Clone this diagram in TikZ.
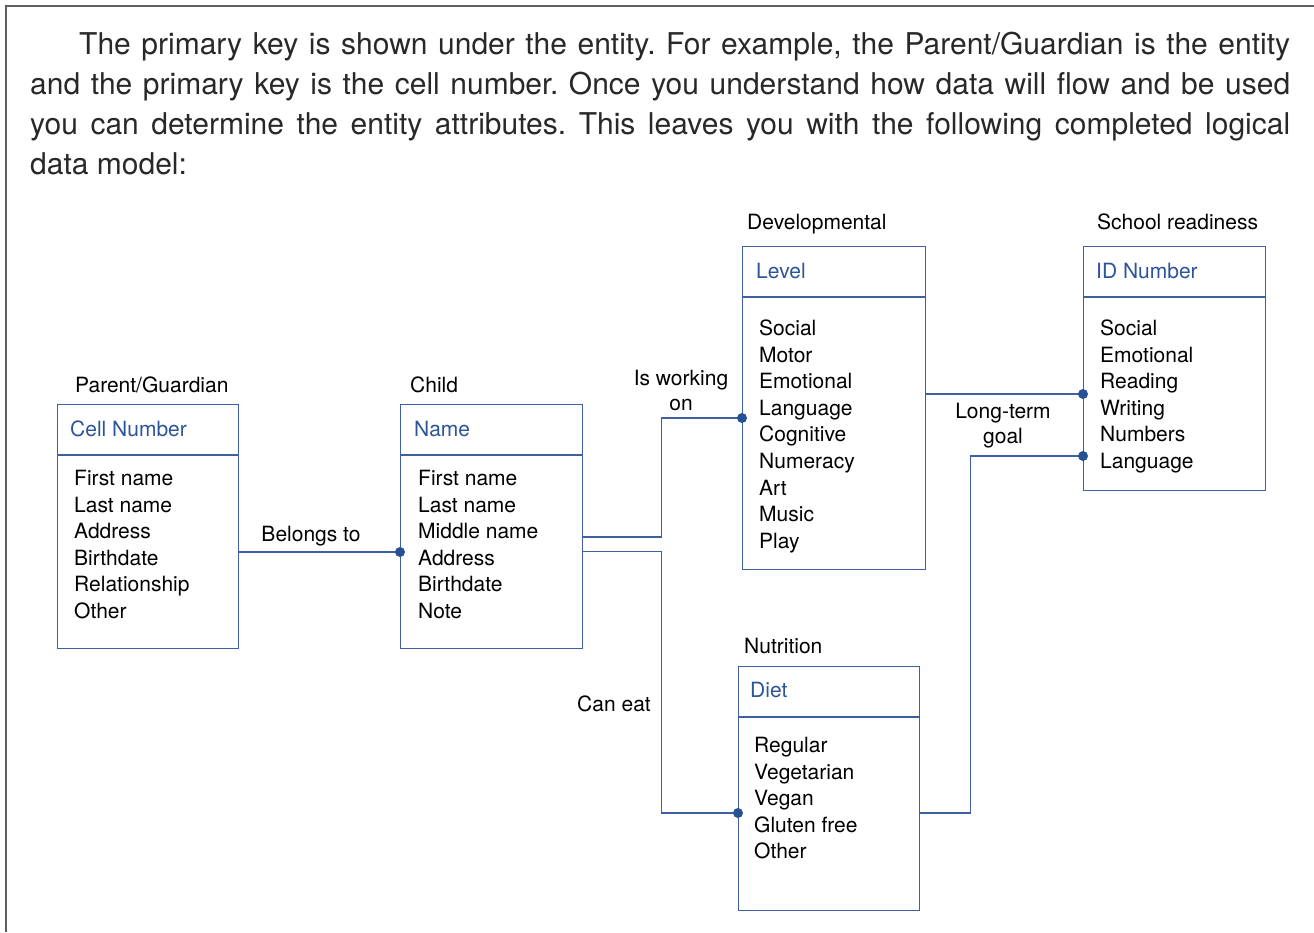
\documentclass[tikz,border=0pt]{standalone}
\usepackage{fontspec}
\setmainfont{TeX Gyre Heros}
\usetikzlibrary{calc}

\definecolor{framegray}{RGB}{95,95,95}
\definecolor{bodytext}{RGB}{40,40,40}
\definecolor{erline}{RGB}{62,96,160}
\definecolor{erkey}{RGB}{44,84,152}
\definecolor{erdot}{RGB}{40,80,148}

\tikzset{
  entity/.style={draw=erline, line width=1.3pt, inner sep=0pt, anchor=north west},
  conn/.style={draw=erline, line width=1.3pt},
  label/.style={anchor=base west, inner sep=0pt, font=\fontsize{21}{25}\selectfont, text=black},
  keytext/.style={anchor=base west, inner sep=0pt, font=\fontsize{21}{25}\selectfont, text=erkey},
  attrs/.style={anchor=base west, inner sep=0pt, font=\fontsize{21}{26.6}\selectfont, text=black},
  rel/.style={anchor=base, inner sep=0pt, font=\fontsize{21}{25}\selectfont, text=black},
  joint/.style={fill=erdot}
}

\newcommand{\attrlist}[1]{\parbox[t]{180pt}{\raggedright #1}}
\newcommand{\rellabel}[1]{\parbox[t]{160pt}{\centering #1}}

\begin{document}
\frenchspacing
\begin{tikzpicture}[x=1pt,y=-1pt]
\useasboundingbox (0,0) rectangle (1314,932);

% page frame (top and left edges)
\draw[framegray, line width=2.2pt] (5.8,932) -- (5.8,5.8) -- (1314,5.8);

% introductory paragraph
\node[anchor=base west, inner sep=0pt, text=bodytext] (intro) at (30,54)
  {\parbox[t]{1260pt}{\fontsize{30}{40}\selectfont\hyphenpenalty=10000
   \hspace*{49pt}The primary key is shown under the entity. For example, the Parent/Guardian is the entity\linebreak
   and the primary key is the cell number. Once you understand how data will flow and be used\linebreak
   you can determine the entity attributes. This leaves you with the following completed logical\linebreak
   data model:}};

% entity boxes
\node[entity, minimum width=181pt, minimum height=244pt] (pg)  at (57,404)  {};
\node[entity, minimum width=182pt, minimum height=244pt] (ch)  at (400,404) {};
\node[entity, minimum width=183pt, minimum height=323pt] (dev) at (742,246) {};
\node[entity, minimum width=182pt, minimum height=244pt] (sr)  at (1083,246) {};
\node[entity, minimum width=181pt, minimum height=244pt] (nut) at (738,666) {};

% key separators
\foreach \e in {pg,ch,dev,sr,nut}
  \draw[conn] ($(\e.north west)+(0,51)$) -- ($(\e.north east)+(0,51)$);

% entity names
\node[label] (pg-name)  at (75,392.5)   {Parent/Guardian};
\node[label] (ch-name)  at (410,392.5)  {Child};
\node[label] (dev-name) at (747,229.5)  {Developmental};
\node[label] (sr-name)  at (1097,229.5) {School readiness};
\node[label] (nut-name) at (744,653.5)  {Nutrition};

% primary keys
\node[keytext] (pg-key)  at (70,436.5)   {Cell Number};
\node[keytext] (ch-key)  at (414,436.5)  {Name};
\node[keytext] (dev-key) at (756,278.5)  {Level};
\node[keytext] (sr-key)  at (1096,278.5) {ID Number};
\node[keytext] (nut-key) at (750,697.5)  {Diet};

% attributes
\node[attrs] (pg-attr)  at (74,485.5)
  {\attrlist{First name\\Last name\\Address\\Birthdate\\Relationship\\Other}};
\node[attrs] (ch-attr)  at (418,485.5)
  {\attrlist{First name\\Last name\\Middle name\\Address\\Birthdate\\Note}};
\node[attrs] (dev-attr) at (759,335.5)
  {\attrlist{Social\\Motor\\Emotional\\Language\\Cognitive\\Numeracy\\Art\\Music\\Play}};
\node[attrs] (sr-attr)  at (1100,335.5)
  {\attrlist{Social\\Emotional\\Reading\\Writing\\Numbers\\Language}};
\node[attrs] (nut-attr) at (754,752.5)
  {\attrlist{Regular\\Vegetarian\\Vegan\\Gluten free\\Other}};

% connection points
\coordinate (d1) at (ch.west |- 0,552);
\coordinate (d2) at (dev.west |- 0,418);
\coordinate (d3) at (nut.west |- 0,813);
\coordinate (d4) at (sr.west |- 0,394);
\coordinate (d5) at (sr.west |- 0,456);

% relationships
\draw[conn] (pg.east |- d1) -- (d1);
\draw[conn] (ch.east |- 0,537) -- ++(78,0) |- (d2);
\draw[conn] (ch.east |- 0,551.5) -- ++(78,0) |- (d3);
\draw[conn] (dev.east |- d4) -- (d4);
\draw[conn] (nut.east |- d3) -- ++(50,0) |- (d5);

\foreach \d in {d1,d2,d3,d4,d5}
  \fill[joint] (\d) circle (5pt);

% relationship labels
\node[rel] (r1) at (311,541.5)  {Belongs to};
\node[rel] (r2) at (681,385.5)  {\rellabel{Is working\\on}};
\node[rel] (r3) at (614,711.5)  {Can eat};
\node[rel] (r4) at (1003,418.5) {\rellabel{Long-term\\goal}};

\end{tikzpicture}
\end{document}
